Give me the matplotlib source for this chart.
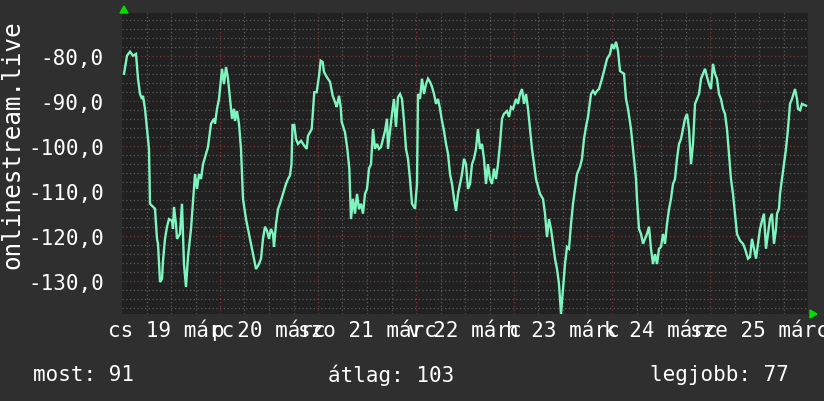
import matplotlib
matplotlib.use("Agg")
import matplotlib.pyplot as plt
from matplotlib.ticker import FixedLocator, NullLocator

# ---- data (hours since start of window, value) ----
hours = [
    0.49, 1.22, 1.96, 2.69, 3.43, 3.92, 4.41, 4.90, 5.14, 5.63,
    6.12, 6.61, 6.86, 8.08, 8.57, 8.82, 9.31, 9.80, 10.04, 10.53,
    11.02, 11.51, 12.24, 12.49, 12.73, 13.22, 13.47, 14.20, 14.69, 15.18,
    15.67, 16.16, 16.65, 16.90, 17.88, 18.37, 18.86, 19.35, 19.84, 20.57,
    21.06, 21.80, 22.53, 22.78, 23.27, 23.76, 24.24, 24.49, 24.98, 25.47,
    25.96, 26.45, 26.94, 27.43, 27.67, 28.16, 28.65, 29.14, 29.63, 30.37,
    31.35, 32.08, 32.82, 33.55, 34.04, 34.53, 35.02, 35.51, 36.00, 36.49,
    36.98, 37.22, 37.71, 38.20, 38.69, 39.43, 40.16, 40.65, 41.14, 41.51,
    41.76, 42.20, 42.61, 43.10, 43.84, 44.57, 45.23, 45.55, 46.46, 47.09,
    47.68, 48.24, 48.66, 49.15, 49.47, 50.13, 50.94, 51.60, 52.33, 52.58,
    53.14, 53.56, 53.80, 54.61, 55.18, 55.67, 56.08, 56.57, 57.06, 57.55,
    58.04, 58.53, 59.02, 59.51, 60.00, 60.49, 60.98, 61.47, 61.96, 62.45,
    62.94, 63.43, 63.92, 64.41, 64.90, 65.14, 65.63, 66.12, 66.61, 67.10,
    67.59, 68.08, 68.57, 69.06, 69.55, 70.04, 70.53, 71.02, 71.76, 72.24,
    72.49, 72.98, 73.47, 73.96, 74.45, 74.94, 75.43, 75.92, 76.41, 76.90,
    77.39, 77.88, 78.37, 78.86, 79.35, 79.84, 80.33, 80.82, 81.31, 81.80,
    82.29, 82.78, 83.27, 83.76, 84.24, 84.73, 85.22, 85.71, 86.20, 86.69,
    87.18, 87.67, 88.16, 88.65, 89.14, 89.63, 90.12, 90.61, 91.10, 91.59,
    92.08, 92.57, 93.06, 93.55, 94.29, 94.78, 95.27, 95.76, 96.49, 96.98,
    97.47, 97.96, 98.45, 98.94, 99.43, 99.92, 100.41, 101.39, 102.37, 103.10,
    103.59, 104.08, 104.57, 105.06, 105.55, 106.04, 106.53, 107.02, 107.27, 107.51,
    108.00, 108.49, 108.98, 109.47, 109.96, 110.45, 110.94, 111.43, 112.16, 112.65,
    113.14, 113.63, 114.12, 114.86, 115.35, 115.84, 116.33, 116.82, 117.55, 118.04,
    118.78, 119.51, 120.00, 120.49, 120.98, 121.47, 121.96, 122.94, 123.43, 123.92,
    124.65, 125.39, 125.88, 126.12, 126.61, 127.10, 127.59, 128.08, 128.57, 129.06,
    129.55, 130.04, 130.53, 131.02, 131.51, 132.00, 132.49, 132.98, 133.47, 133.96,
    134.45, 134.94, 135.43, 135.92, 136.41, 136.90, 137.39, 137.88, 138.37, 138.86,
    139.35, 139.84, 140.33, 140.82, 141.31, 141.80, 142.29, 142.78, 143.27, 143.76,
    144.24, 144.73, 145.22, 145.71, 146.20, 146.69, 147.18, 147.67, 148.16, 148.65,
    149.14, 149.63, 150.12, 150.61, 151.35, 152.08, 152.57, 153.31, 153.80, 154.29,
    154.78, 155.27, 155.76, 156.24, 156.73, 157.22, 157.71, 158.20, 158.69, 159.18,
    159.67, 160.16, 160.41, 160.90, 161.14, 161.63, 162.12, 162.61, 163.10, 163.59,
    164.08, 164.82, 165.31, 165.55, 166.04, 166.53, 167.51,
]
values = [
    -83.9, -79.9, -79.0, -79.9, -79.5, -85.0, -88.4, -89.5, -88.8, -91.7,
    -96.2, -100.6, -112.8, -113.9, -120.6, -121.7, -130.2, -129.5, -125.5, -120.6,
    -117.9, -116.2, -116.6, -118.4, -113.5, -117.3, -120.6, -119.5, -112.8, -126.2,
    -131.3, -124.6, -120.6, -118.4, -106.2, -109.5, -106.2, -107.3, -104.0, -101.7,
    -100.2, -95.0, -93.9, -95.0, -91.7, -89.5, -85.0, -82.8, -86.2, -82.4,
    -85.0, -89.5, -93.9, -91.7, -94.4, -92.2, -95.0, -100.6, -111.7, -116.2,
    -120.6, -123.9, -127.3, -126.2, -125.0, -120.6, -117.9, -118.8, -120.6, -118.4,
    -119.5, -122.4, -117.3, -114.0, -112.8, -110.6, -108.4, -107.3, -106.5, -104.0,
    -95.3, -95.3, -98.4, -99.5, -98.8, -99.8, -100.6, -97.7, -96.2, -88.0,
    -88.0, -84.4, -81.0, -81.3, -83.5, -84.6, -85.7, -88.8, -90.6, -91.3,
    -88.8, -91.3, -94.6, -96.9, -100.6, -105.0, -116.2, -111.7, -115.0, -110.6,
    -114.0, -112.8, -115.0, -110.6, -109.5, -105.0, -104.0, -96.2, -100.6, -99.5,
    -100.6, -100.2, -98.4, -96.6, -93.9, -100.6, -96.6, -92.8, -89.5, -95.7,
    -89.1, -88.4, -89.5, -94.4, -100.6, -102.8, -107.3, -112.8, -113.9, -108.4,
    -88.4, -89.5, -85.0, -88.4, -86.2, -85.0, -85.7, -86.8, -88.4, -90.6,
    -89.5, -91.7, -94.4, -96.6, -99.5, -101.7, -106.2, -108.4, -111.7, -114.4,
    -110.6, -108.4, -106.2, -102.8, -104.0, -109.5, -108.4, -104.0, -102.8, -100.6,
    -96.2, -100.6, -99.5, -102.8, -108.4, -104.0, -107.3, -108.4, -105.0, -107.3,
    -104.0, -99.5, -93.9, -92.8, -92.2, -93.5, -91.3, -91.7, -89.5, -90.6,
    -88.4, -87.3, -90.6, -88.4, -91.7, -96.2, -100.6, -107.3, -110.6, -111.7,
    -115.0, -120.2, -116.2, -118.4, -121.7, -125.0, -127.3, -130.6, -134.0, -137.3,
    -131.7, -126.2, -122.4, -122.8, -117.3, -112.8, -109.5, -106.2, -104.6, -102.8,
    -98.4, -95.7, -93.5, -88.4, -87.7, -88.4, -87.7, -87.3, -85.0, -83.3,
    -80.6, -79.5, -77.3, -78.4, -76.8, -78.8, -83.3, -83.9, -89.5, -91.7,
    -96.2, -102.8, -107.3, -111.7, -118.4, -119.5, -121.7, -120.6, -119.5, -117.9,
    -122.8, -126.2, -124.0, -126.2, -122.8, -122.4, -119.5, -121.7, -117.3, -114.0,
    -111.7, -108.4, -107.3, -102.8, -99.5, -98.4, -96.2, -93.9, -92.8, -96.2,
    -104.0, -99.5, -90.6, -89.5, -88.4, -85.0, -83.9, -82.8, -84.6, -86.2,
    -87.3, -81.7, -83.9, -85.0, -88.4, -89.5, -91.7, -92.8, -96.2, -101.7,
    -107.3, -110.6, -115.0, -119.5, -121.0, -121.7, -122.8, -125.0, -124.6, -120.6,
    -122.8, -125.0, -121.7, -118.4, -116.6, -115.0, -122.8, -119.5, -116.2, -115.0,
    -121.7, -118.4, -115.0, -113.9, -110.6, -107.3, -104.0, -100.6, -96.2, -90.6,
    -89.5, -87.3, -89.5, -91.7, -92.0, -90.6, -91.0,
]

day_labels = ["cs 19 márc", "p 20 márc", "szo 21 márc", "v 22 márc",
              "h 23 márc", "k 24 márc", "sze 25 márc"]
label_hours = [12, 36, 60, 84, 108, 132, 156]
y_ticks = [-80, -90, -100, -110, -120, -130]
y_label = "onlinestream.live"
stats = ["most: 91", "átlag: 103", "legjobb: 77"]

# ---- style ----
BG = "#2f2f2f"
PLOT_BG = "#212121"
LINE = "#7ef5bf"
FONT = "DejaVu Sans Mono"
FS = 15

W, H = 824, 402
fig = plt.figure(figsize=(W / 100, H / 100), dpi=100, facecolor=BG)
left, right, top, bottom = 122, 808, 14, 315
ax = fig.add_axes([left / W, 1 - bottom / H, (right - left) / W, (bottom - top) / H])
ax.set_facecolor(PLOT_BG)

ax.set_xlim(0, 168)
ax.set_ylim(-137.3, -70.4)

# grids
for h in range(6, 168, 6):
    if h % 24:
        ax.axvline(h, color="#5a5a5a", lw=0.9, ls=(0, (1, 2)), zorder=1)
for h in range(24, 169, 24):
    ax.axvline(h, color="#7a3434", lw=0.9, ls=(0, (1, 2)), zorder=1)
for v in range(-136, -70, 2):
    if v % 10:
        ax.axhline(v, color="#5a5a5a", lw=0.9, ls=(0, (1, 2)), zorder=1)
for v in y_ticks:
    ax.axhline(v, color="#7a3434", lw=0.9, ls=(0, (1, 2)), zorder=1)

ax.plot(hours, values, color=LINE, lw=1.7, zorder=3, solid_joinstyle="miter")

for s in ax.spines.values():
    s.set_visible(False)

ax.yaxis.set_major_locator(FixedLocator(y_ticks))
ax.set_yticklabels([f"{v:.1f}".replace(".", ",") for v in y_ticks],
                   fontfamily=FONT, fontsize=FS, color="white")
ax.tick_params(axis="y", length=0, pad=13)
ax.xaxis.set_major_locator(NullLocator())

# day labels, drawn at a common baseline (later ones over earlier ones)
for i, (h, lab) in enumerate(zip(label_hours, day_labels)):
    xf = ax.transData.transform((h, 0))[0] / W
    fig.text(xf, 1 - 337 / H, lab, ha="center", va="baseline",
             fontfamily=FONT, fontsize=FS, color="white", zorder=5 + i)

fig.text(12 / W, 1 - 145 / H, y_label, rotation=90, ha="center", va="center",
         fontfamily=FONT, fontsize=17.5, color="white")

for txt, x in zip(stats, [33, 328, 650]):
    fig.text(x / W, 1 - 375 / H, txt, ha="left", va="center",
             fontfamily=FONT, fontsize=FS, color="white")

# rrdtool-like axis arrows
fig.patches.append(plt.Polygon([[120 / W, 1 - 14 / H], [128 / W, 1 - 14 / H], [124 / W, 1 - 7 / H]],
                               closed=True, color="#00dd00", transform=fig.transFigure))
fig.patches.append(plt.Polygon([[810 / W, 1 - 311 / H], [810 / W, 1 - 319 / H], [817 / W, 1 - 315 / H]],
                               closed=True, color="#00dd00", transform=fig.transFigure))

fig.savefig("out.png", dpi=100, facecolor=BG)
